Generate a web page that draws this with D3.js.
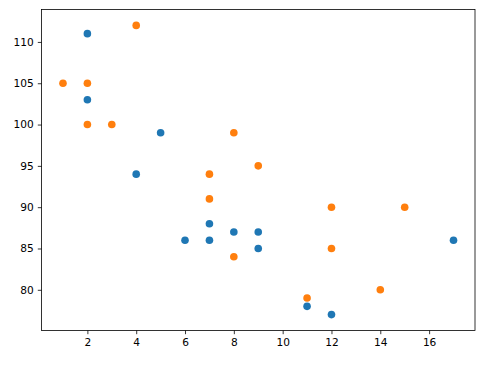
<!DOCTYPE html>
<html>
<head>
<meta charset="utf-8">
<script src="https://cdn.jsdelivr.net/npm/d3@7"></script>
<style>
  body { margin: 0; background: #fff; }
  svg { display: block; }
  .tick text { font-family: "DejaVu Sans", sans-serif; font-size: 10.6px; fill: #000; }
</style>
</head>
<body>
<div id="chart"></div>
<script>
const x1 = [5, 7, 8, 7, 2, 17, 2, 9, 4, 11, 12, 9, 6];
const y1 = [99, 86, 87, 88, 111, 86, 103, 87, 94, 78, 77, 85, 86];
const x2 = [2, 2, 8, 1, 15, 8, 12, 9, 7, 3, 11, 4, 7, 14, 12];
const y2 = [100, 105, 84, 105, 90, 99, 90, 95, 94, 100, 79, 112, 91, 80, 85];
const xTicks = [2, 4, 6, 8, 10, 12, 14, 16];
const yTicks = [80, 85, 90, 95, 100, 105, 110];

const width = 489, height = 367;
const margin = { top: 9.5, right: 14, bottom: 36.5, left: 41.5 };

const svg = d3.select("#chart").append("svg")
    .attr("width", width)
    .attr("height", height);

// padding around the data range, like matplotlib autoscale
function padded(vals, p) {
    const [a, b] = d3.extent(vals);
    const m = (b - a) * p;
    return [a - m, b + m];
}

const x = d3.scaleLinear()
    .domain(padded(x1.concat(x2), 0.055))
    .range([margin.left, width - margin.right]);
const y = d3.scaleLinear()
    .domain(padded(y1.concat(y2), 0.055))
    .range([height - margin.bottom, margin.top]);

const xAxis = svg.append("g")
    .attr("transform", `translate(0,${height - margin.bottom})`)
    .call(d3.axisBottom(x).tickValues(xTicks).tickSize(3.7).tickPadding(4).tickFormat(d3.format("d")));
const yAxis = svg.append("g")
    .attr("transform", `translate(${margin.left},0)`)
    .call(d3.axisLeft(y).tickValues(yTicks).tickSize(3.7).tickPadding(4).tickFormat(d3.format("d")));
[xAxis, yAxis].forEach(g => {
    g.select(".domain").remove();
    g.selectAll(".tick line").attr("stroke", "#000").attr("stroke-width", 0.8);
});

const series = [
    { xs: x1, ys: y1, color: "#1f77b4" },
    { xs: x2, ys: y2, color: "#ff7f0e" }
];
series.forEach(s => {
    svg.append("g")
        .selectAll("circle")
        .data(s.xs.map((d, i) => [d, s.ys[i]]))
        .join("circle")
        .attr("cx", d => x(d[0]))
        .attr("cy", d => y(d[1]))
        .attr("r", 3.8)
        .attr("fill", s.color);
});

// frame
svg.append("rect")
    .attr("x", margin.left)
    .attr("y", margin.top)
    .attr("width", width - margin.left - margin.right)
    .attr("height", height - margin.top - margin.bottom)
    .attr("fill", "none")
    .attr("stroke", "#000")
    .attr("stroke-width", 0.8);
</script>
</body>
</html>
